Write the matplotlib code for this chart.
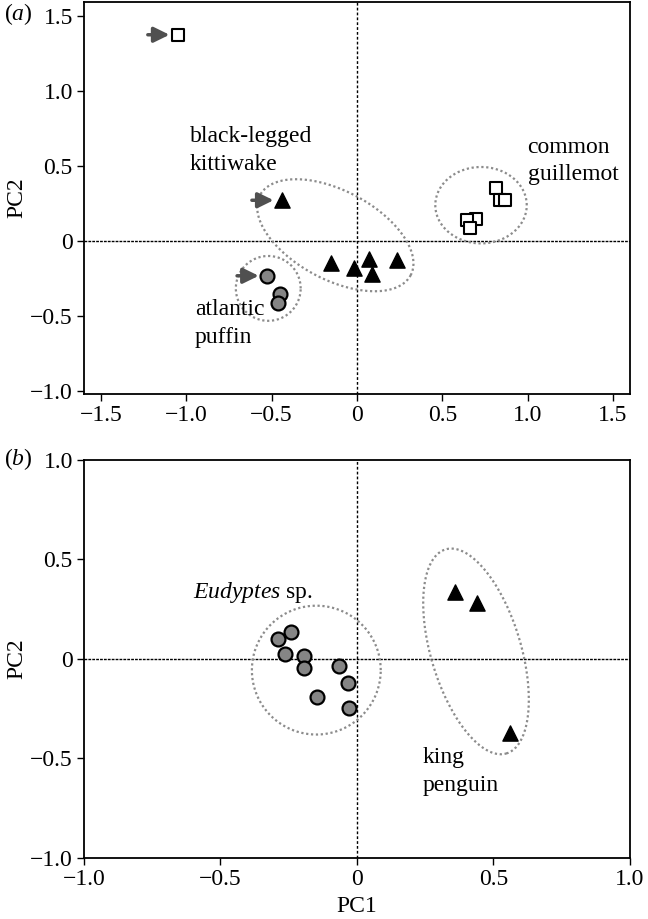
import numpy as np
import matplotlib
matplotlib.use('Agg')
import matplotlib.pyplot as plt
from matplotlib.ticker import FuncFormatter

plt.rcParams['font.family'] = ['Liberation Serif', 'DejaVu Serif']
plt.rcParams['font.size'] = 17
plt.rcParams['mathtext.fontset'] = 'custom'
plt.rcParams['mathtext.rm'] = 'Liberation Serif'
plt.rcParams['mathtext.it'] = 'Liberation Serif:italic'

# (a) North Atlantic species
guillemot_x = [-1.05, 0.817, 0.836, 0.865, 0.699, 0.646, 0.664]
guillemot_y = [1.372, 0.35, 0.275, 0.275, 0.148, 0.137, 0.082]
kittiwake_x = [-0.44, -0.15, -0.02, 0.072, 0.09, 0.234]
kittiwake_y = [0.27, -0.15, -0.18, -0.118, -0.22, -0.13]
puffin_x = [-0.527, -0.449, -0.465]
puffin_y = [-0.233, -0.355, -0.417]

# (b) penguins
eudyptes_x = [-0.289, -0.24, -0.262, -0.195, -0.195, -0.066, -0.033, -0.146, -0.029]
eudyptes_y = [0.10, 0.134, 0.027, 0.017, -0.045, -0.034, -0.12, -0.19, -0.245]
king_x = [0.36, 0.439, 0.559]
king_y = [0.335, 0.28, -0.372]

ticks_a_x = [-1.5, -1.0, -0.5, 0, 0.5, 1.0, 1.5]
ticks_a_y = [-1.0, -0.5, 0, 0.5, 1.0, 1.5]
ticks_b = [-1.0, -0.5, 0, 0.5, 1.0]


def fmt(v, pos):
    if abs(v) < 1e-9:
        return '0'
    return ('%.1f' % v).replace('-', '\u2212')


def ring(ax, cx, cy, a, b, ang):
    # a, b in x data units; angle as seen on screen
    p0 = ax.transData.transform((0, 0))
    p1 = ax.transData.transform((1, 1))
    kx, ky = p1 - p0
    t = np.linspace(0, 2 * np.pi, 300)
    th = np.radians(ang)
    px = a * kx * np.cos(t) * np.cos(th) - b * kx * np.sin(t) * np.sin(th)
    py = a * kx * np.cos(t) * np.sin(th) + b * kx * np.sin(t) * np.cos(th)
    ax.plot(cx + px / kx, cy + py / ky, color='#8c8c8c', lw=1.6,
            linestyle=(0, (1, 1.2)), zorder=1)


def pointer(ax, x, y):
    ax.annotate('', xy=(x, y), xytext=(-30, 0), textcoords='offset pixels',
                arrowprops=dict(arrowstyle='-|>,head_length=0.55,head_width=0.27',
                                color='#505050', lw=2.5, shrinkA=0, shrinkB=6))


def style(ax, xt, yt):
    ax.set_xticks(xt)
    ax.set_yticks(yt)
    ax.xaxis.set_major_formatter(FuncFormatter(fmt))
    ax.yaxis.set_major_formatter(FuncFormatter(fmt))
    ax.tick_params(direction='out', length=5, width=1, labelsize=17, pad=3)
    for s in ax.spines.values():
        s.set_linewidth(1.3)
    ax.axhline(0, color='black', lw=1, linestyle=(0, (2, 0.8)), zorder=0)
    ax.axvline(0, color='black', lw=1, linestyle=(0, (2, 1.5)), zorder=0)
    ax.set_ylabel('PC2', fontsize=17, labelpad=2)


fig = plt.figure(figsize=(6.48, 9.19), dpi=100)
ax1 = fig.add_axes([0.1296, 0.5713, 0.8426, 0.4265])
ax2 = fig.add_axes([0.1296, 0.0664, 0.8426, 0.4331])

ax1.set_xlim(-1.6, 1.6)
ax1.set_ylim(-1.02, 1.59)
ax2.set_xlim(-1.0, 1.0)
ax2.set_ylim(-1.0, 1.0)
style(ax1, ticks_a_x, ticks_a_y)
style(ax2, ticks_b, ticks_b)

ax1.scatter(guillemot_x, guillemot_y, marker='s', s=75, facecolor='white',
            edgecolor='black', lw=1.5, zorder=3)
ax1.scatter(kittiwake_x, kittiwake_y, marker='^', s=120, color='black', zorder=3)
ax1.scatter(puffin_x, puffin_y, marker='o', s=100, facecolor='#858585',
            edgecolor='black', lw=1.6, zorder=3)

ring(ax1, -0.127, 0.037, 0.50, 0.26, -28)
ring(ax1, -0.52, -0.317, 0.19, 0.19, 0)
ring(ax1, 0.727, 0.237, 0.268, 0.224, 0)

pointer(ax1, guillemot_x[0], guillemot_y[0])
pointer(ax1, kittiwake_x[0], kittiwake_y[0])
pointer(ax1, puffin_x[0], puffin_y[0])

ax1.text(-0.98, 0.6, 'black-legged\nkittiwake', ha='left', va='center', linespacing=1.4)
ax1.text(1.0, 0.53, 'common\nguillemot', ha='left', va='center', linespacing=1.4)
ax1.text(-0.95, -0.55, 'atlantic\npuffin', ha='left', va='center', linespacing=1.4)

ax2.scatter(eudyptes_x, eudyptes_y, marker='o', s=100, facecolor='#858585',
            edgecolor='black', lw=1.6, zorder=3)
ax2.scatter(king_x, king_y, marker='^', s=120, color='black', zorder=3)

ring(ax2, -0.149, -0.056, 0.236, 0.236, 0)
ring(ax2, 0.436, 0.038, 0.39, 0.165, -73.4)

ax2.text(-0.60, 0.335, r'$\mathit{Eudyptes}$ sp.', ha='left', va='center')
ax2.text(0.24, -0.565, 'king\npenguin', ha='left', va='center', linespacing=1.4)
ax2.set_xlabel('PC1', fontsize=17, labelpad=4)

fig.text(0.006, 0.985, r'($\mathit{a}$)', fontsize=17, va='center')
fig.text(0.006, 0.5005, r'($\mathit{b}$)', fontsize=17, va='center')

fig.savefig('out.png', dpi=100)
